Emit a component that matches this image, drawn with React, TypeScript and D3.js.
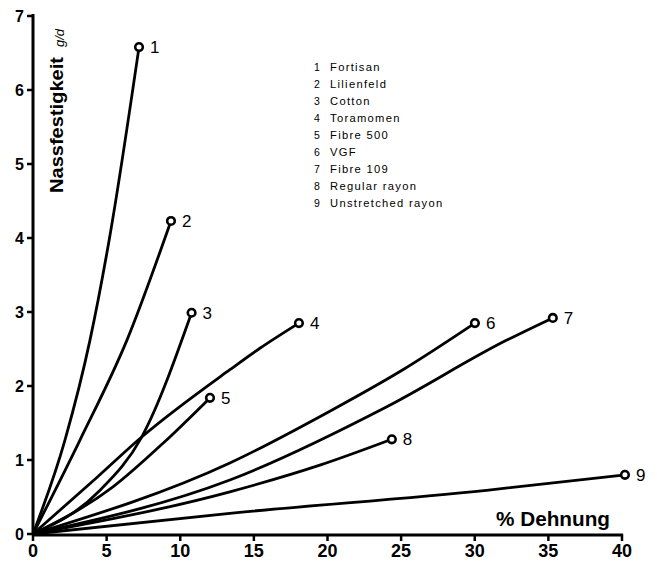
import React from "react";
import * as d3 from "d3";

// Fibre ids and names for the key
const fibreIds = ["1", "2", "3", "4", "5", "6", "7", "8", "9"];
const fibreNames = [
  "Fortisan",
  "Lilienfeld",
  "Cotton",
  "Toramomen",
  "Fibre 500",
  "VGF",
  "Fibre 109",
  "Regular rayon",
  "Unstretched rayon",
];

// Stress–strain curves: elongation (%) and wet tenacity (g/d)
const curve1: [number, number][] = [[0, 0], [2.17, 1.27], [3.87, 2.62], [5.17, 3.97], [7.2, 6.58]];
const curve2: [number, number][] = [[0, 0], [3.19, 1.27], [6.38, 2.62], [9.37, 4.23]];
const curve3: [number, number][] = [[0, 0], [4.5, 0.58], [7.38, 1.31], [10.77, 2.99]];
const curve4: [number, number][] = [[0, 0], [4.32, 0.76], [7.38, 1.31], [13.37, 2.22], [15.41, 2.51], [18.06, 2.85]];
const curve5: [number, number][] = [[0, 0], [5.45, 0.64], [8.85, 1.23], [12.02, 1.84]];
const curve6: [number, number][] = [[0, 0], [13.37, 0.96], [20.16, 1.66], [25.12, 2.22], [30.01, 2.85]];
const curve7: [number, number][] = [[0, 0], [13.37, 0.73], [24.03, 1.72], [32.18, 2.62], [35.3, 2.92]];
const curve8: [number, number][] = [[0, 0], [13.37, 0.57], [19.48, 0.93], [24.37, 1.28]];
const curve9: [number, number][] = [[0, 0], [13.37, 0.28], [30.8, 0.59], [40.2, 0.8]];

const curves = [curve1, curve2, curve3, curve4, curve5, curve6, curve7, curve8, curve9];

const xTicks = [0, 5, 10, 15, 20, 25, 30, 35, 40];
const yTicks = [0, 1, 2, 3, 4, 5, 6, 7];

const W = 657;
const H = 564;
const font = "'Liberation Sans', 'DejaVu Sans', sans-serif";

export default function App() {
  const x = d3.scaleLinear().domain([0, 40]).range([33, 622]);
  const y = d3.scaleLinear().domain([0, 7]).range([534, 16]);

  const line = d3
    .line<[number, number]>()
    .x((d) => x(d[0]))
    .y((d) => y(d[1]))
    .curve(d3.curveMonotoneX);

  const x0 = x(0);
  const y0 = y(0);

  return (
    <svg
      width={W}
      height={H}
      viewBox={`0 0 ${W} ${H}`}
      style={{ position: "absolute", left: 0, top: 0, background: "#fff" }}
    >
      <rect x={0} y={0} width={W} height={H} fill="#fff" />

      {/* axes */}
      <line x1={x0} y1={y0 + 1} x2={x0} y2={y(7) - 2} stroke="#000" strokeWidth={3} />
      <line x1={x0 - 1} y1={y0 + 1} x2={x(40) + 1} y2={y0 + 1} stroke="#000" strokeWidth={3} />

      {yTicks.map((t) => (
        <g key={"y" + t}>
          <line x1={x0 - 6} x2={x0} y1={y(t)} y2={y(t)} stroke="#000" strokeWidth={2.5} />
          <text
            x={x0 - 9}
            y={y(t)}
            dy="0.36em"
            textAnchor="end"
            fontFamily={font}
            fontWeight="bold"
            fontSize={16}
          >
            {t}
          </text>
        </g>
      ))}

      {xTicks.map((t) => (
        <g key={"x" + t}>
          <line x1={x(t)} x2={x(t)} y1={y0} y2={y0 + 7} stroke="#000" strokeWidth={2.5} />
          <text
            x={x(t)}
            y={557}
            textAnchor="middle"
            fontFamily={font}
            fontWeight="bold"
            fontSize={18}
          >
            {t}
          </text>
        </g>
      ))}

      {/* axis titles */}
      <text
        transform="translate(63,193) rotate(-90)"
        fontFamily={font}
        fontWeight="bold"
        fontSize={19}
        textLength={136}
        lengthAdjust="spacingAndGlyphs"
      >
        Nassfestigkeit
      </text>
      <text
        transform="translate(64,47) rotate(-90)"
        fontFamily={font}
        fontSize={13}
        fontStyle="italic"
      >
        g/d
      </text>
      <text
        x={496}
        y={526}
        fontFamily={font}
        fontWeight="bold"
        fontSize={20}
        textLength={114}
        lengthAdjust="spacingAndGlyphs"
      >
        % Dehnung
      </text>

      {/* curves */}
      {curves.map((c, i) => (
        <path key={"c" + i} d={line(c) || ""} fill="none" stroke="#000" strokeWidth={2.8} strokeLinecap="round" />
      ))}

      {/* end markers and ids */}
      {curves.map((c, i) => {
        const last = c[c.length - 1];
        const cx = x(last[0]);
        const cy = y(last[1]);
        return (
          <g key={"m" + i}>
            <circle cx={cx} cy={cy} r={3.8} fill="#fff" stroke="#000" strokeWidth={2.6} />
            <text
              x={cx + 11}
              y={cy}
              dy="0.36em"
              fontFamily={font}
              fontSize={17}
            >
              {fibreIds[i]}
            </text>
          </g>
        );
      })}

      {/* key */}
      {fibreNames.map((name, i) => (
        <g key={"k" + i}>
          <text x={314} y={67 + i * 17} dy="0.35em" fontFamily={font} fontSize={10.5}>
            {fibreIds[i]}
          </text>
          <text
            x={330}
            y={67 + i * 17}
            dy="0.35em"
            fontFamily={font}
            fontSize={11.2}
            letterSpacing={1.3}
          >
            {name}
          </text>
        </g>
      ))}
    </svg>
  );
}
